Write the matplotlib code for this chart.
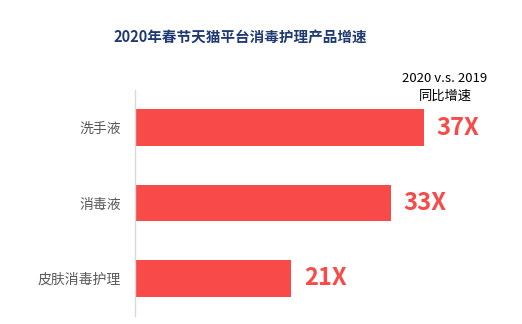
import matplotlib
matplotlib.use("Agg")
import matplotlib.pyplot as plt

plt.rcParams['font.family'] = ['Noto Sans CJK SC', 'DejaVu Sans']

categories = ['洗手液', '消毒液', '皮肤消毒护理']
growth = [37, 33, 21]
value_labels = ['37X', '33X', '21X']

red = '#F94A4A'

fig = plt.figure(figsize=(5.22, 3.24), dpi=100)
ax = fig.add_axes([135 / 522, 1 - 316 / 324, (480 - 135) / 522, (316 - 90) / 324])

ax.barh(range(len(categories)), growth, height=0.49, color=red, left=0)
ax.set_xlim(2.2, 43.7)
ax.set_ylim(2.5, -0.5)

for i, (v, lab) in enumerate(zip(growth, value_labels)):
    ax.text(v + 1.5, i, lab, color=red, fontsize=17, fontweight='bold',
            va='center', ha='left')

ax.set_yticks(range(len(categories)))
ax.set_yticklabels(categories, fontsize=10, color='#595959')
ax.tick_params(axis='y', length=0, pad=10)
ax.set_xticks([])
for s in ['top', 'right', 'bottom']:
    ax.spines[s].set_visible(False)
ax.spines['left'].set_color('#D9D9D9')
ax.spines['left'].set_linewidth(1)

fig.text(240 / 522, 1 - 38 / 324, '2020年春节天猫平台消毒护理产品增速',
         fontsize=10.5, fontweight='bold', color='#1F3A73', ha='center', va='center')
fig.text(445 / 522, 1 - 78 / 324, '2020 v.s. 2019', fontsize=9.5, color='black',
         ha='center', va='center')
fig.text(445 / 522, 1 - 96 / 324, '同比增速', fontsize=9.5, color='black',
         ha='center', va='center')

fig.savefig('out.png', dpi=100)
